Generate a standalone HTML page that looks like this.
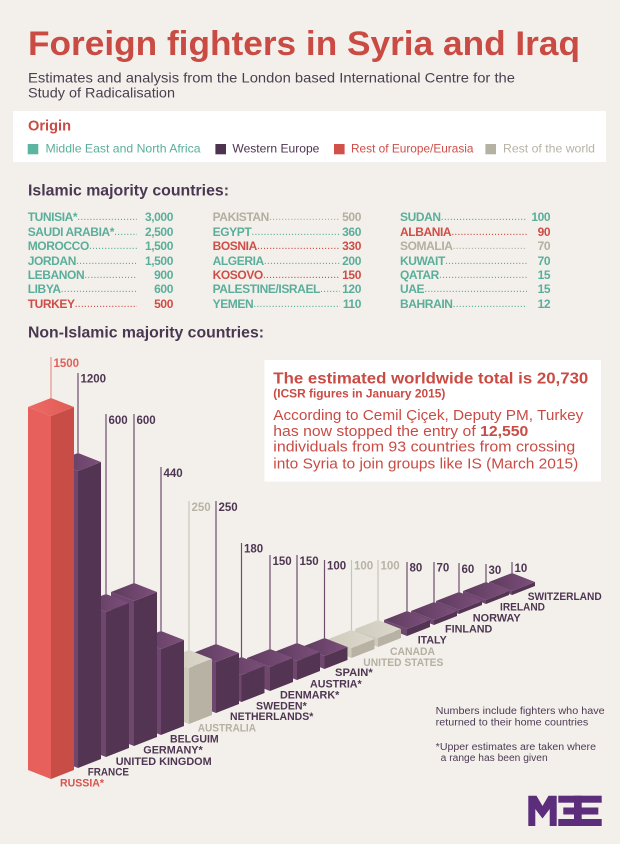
<!DOCTYPE html>
<html>
<head>
<meta charset="utf-8">
<style>
html,body{margin:0;padding:0;}
body{width:620px;height:844px;background:#f3f0eb;overflow:hidden;position:relative;font-family:"Liberation Sans",sans-serif;}
svg{position:absolute;left:0;top:0;}
.col{position:absolute;font-size:12px;font-weight:bold;line-height:14.43px;letter-spacing:-0.4px;}
.row{display:flex;white-space:nowrap;height:14.43px;}
.row span{flex:none;}
.row .d{flex:1 1 0;min-width:0;overflow:hidden;letter-spacing:0px;font-weight:normal;font-size:11px;}
.row .v{text-align:right;}
.t{color:#5aae9b;}
.r{color:#cf4d47;}
.gr{color:#b3ae9f;}
</style>
</head>
<body>
<svg width="620" height="844" viewBox="0 0 620 844" xmlns="http://www.w3.org/2000/svg" font-family="Liberation Sans, sans-serif">
<defs>
<linearGradient id="pt" x1="0" y1="0" x2="1" y2="0"><stop offset="0" stop-color="#5e3b5e"/><stop offset="1" stop-color="#7c4f7b"/></linearGradient>
<linearGradient id="rt" x1="0" y1="0" x2="1" y2="0"><stop offset="0" stop-color="#ee6a65"/><stop offset="1" stop-color="#df5c57"/></linearGradient>
<linearGradient id="gt" x1="0" y1="0" x2="1" y2="0"><stop offset="0" stop-color="#cfcbbd"/><stop offset="1" stop-color="#dcd8cb"/></linearGradient>
</defs>

<rect x="13" y="111" width="593" height="51" fill="#ffffff"/>
<rect x="264.5" y="360" width="336.5" height="121.5" fill="#ffffff"/>

<text x="28" y="55" font-size="34" font-weight="bold" fill="#c94b44" textLength="552" lengthAdjust="spacingAndGlyphs">Foreign fighters in Syria and Iraq</text>
<text x="28" y="82.7" font-size="14" fill="#4b3f50" textLength="487" lengthAdjust="spacingAndGlyphs">Estimates and analysis from the London based International Centre for the</text>
<text x="28" y="97.3" font-size="14" fill="#4b3f50" textLength="147" lengthAdjust="spacingAndGlyphs">Study of Radicalisation</text>

<text x="28" y="130.7" font-size="15" font-weight="bold" fill="#c94b44" textLength="43" lengthAdjust="spacingAndGlyphs">Origin</text>
<rect x="27.7" y="144" width="10.6" height="10.3" fill="#5cb5a1"/>
<text x="45.5" y="152.7" font-size="12" fill="#5aae9b" textLength="155" lengthAdjust="spacingAndGlyphs">Middle East and North Africa</text>
<rect x="215.4" y="144" width="10.6" height="10.3" fill="#4d3350"/>
<text x="232.4" y="152.7" font-size="12" fill="#4d3350" textLength="87" lengthAdjust="spacingAndGlyphs">Western Europe</text>
<rect x="334" y="144" width="10.6" height="10.3" fill="#d2504a"/>
<text x="351" y="152.7" font-size="12" fill="#cf4d47" textLength="122.5" lengthAdjust="spacingAndGlyphs">Rest of Europe/Eurasia</text>
<rect x="485.4" y="144" width="10.6" height="10.3" fill="#b6b2a3"/>
<text x="503" y="152.7" font-size="12" fill="#b7b3a5" textLength="92" lengthAdjust="spacingAndGlyphs">Rest of the world</text>

<text x="28" y="195.7" font-size="16" font-weight="bold" fill="#4a3852" textLength="201" lengthAdjust="spacingAndGlyphs">Islamic majority countries:</text>
<text x="28" y="337.7" font-size="16" font-weight="bold" fill="#4a3852" textLength="236" lengthAdjust="spacingAndGlyphs">Non-Islamic majority countries:</text>

<text x="273.3" y="383.3" font-size="16" font-weight="bold" fill="#c94b44" textLength="315" lengthAdjust="spacingAndGlyphs">The estimated worldwide total is 20,730</text>
<text x="273.3" y="397.7" font-size="12" font-weight="bold" fill="#c94b44" textLength="172" lengthAdjust="spacingAndGlyphs">(ICSR figures in January 2015)</text>
<g font-size="15" fill="#c94b44">
<text x="273.3" y="420" textLength="310" lengthAdjust="spacingAndGlyphs">According to Cemil Çiçek, Deputy PM, Turkey</text>
<text x="273.3" y="436" textLength="255" lengthAdjust="spacingAndGlyphs">has now stopped the entry of <tspan font-weight="bold">12,550</tspan></text>
<text x="273.3" y="451.7" textLength="302" lengthAdjust="spacingAndGlyphs">individuals from 93 countries from crossing</text>
<text x="273.3" y="468.3" textLength="305" lengthAdjust="spacingAndGlyphs">into Syria to join groups like IS (March 2015)</text>
</g>

<g stroke-width="1.2">
<line x1="51" y1="357" x2="51" y2="398" stroke="#e6928c"/>
<line x1="78" y1="373" x2="78" y2="453" stroke="#6d4d6b"/>
<line x1="106" y1="414" x2="106" y2="594" stroke="#6d4d6b"/>
<line x1="134" y1="414" x2="134" y2="583" stroke="#6d4d6b"/>
<line x1="161" y1="467" x2="161" y2="631" stroke="#6d4d6b"/>
<line x1="189" y1="501" x2="189" y2="650" stroke="#c8c4b6"/>
<line x1="216" y1="501" x2="216" y2="644" stroke="#6d4d6b"/>
<line x1="241.5" y1="543" x2="241.5" y2="657" stroke="#6d4d6b"/>
<line x1="270" y1="555" x2="270" y2="649" stroke="#6d4d6b"/>
<line x1="297" y1="555" x2="297" y2="643" stroke="#6d4d6b"/>
<line x1="324.5" y1="560" x2="324.5" y2="638" stroke="#6d4d6b"/>
<line x1="351.5" y1="560" x2="351.5" y2="630" stroke="#c8c4b6"/>
<line x1="378" y1="560" x2="378" y2="620" stroke="#c8c4b6"/>
<line x1="407" y1="562" x2="407" y2="611" stroke="#6d4d6b"/>
<line x1="434" y1="562" x2="434" y2="602" stroke="#6d4d6b"/>
<line x1="459" y1="563" x2="459" y2="592" stroke="#6d4d6b"/>
<line x1="486" y1="564" x2="486" y2="582" stroke="#6d4d6b"/>
<line x1="512" y1="562" x2="512" y2="573" stroke="#6d4d6b"/>
</g>
<g font-size="11.5" font-weight="bold" fill="#4e3652">
<text x="53.5" y="367" fill="#e0605a">1500</text>
<text x="80.5" y="382.5">1200</text>
<text x="108.5" y="424">600</text>
<text x="136.5" y="424">600</text>
<text x="163.5" y="477">440</text>
<text x="191.5" y="511" fill="#b8b3a5">250</text>
<text x="218.5" y="511">250</text>
<text x="244" y="552.5">180</text>
<text x="272.5" y="565">150</text>
<text x="299.5" y="565">150</text>
<text x="327" y="569.5">100</text>
<text x="354" y="569.5" fill="#b8b3a5">100</text>
<text x="380.5" y="569.5" fill="#b8b3a5">100</text>
<text x="409.5" y="571.5">80</text>
<text x="436.5" y="571.5">70</text>
<text x="461.5" y="573">60</text>
<text x="488.5" y="574">30</text>
<text x="514.5" y="572">10</text>
</g>

<polygon points="489,582 512,591 512,595 489,586" fill="#6e466e"/>
<polygon points="512,591 535,582 535,586 512,595" fill="#533553"/>
<polygon points="512,573 535,582 512,591 489,582" fill="url(#pt)"/>
<polygon points="463,591 486,600 486,604 463,595" fill="#6e466e"/>
<polygon points="486,600 509,591 509,595 486,604" fill="#533553"/>
<polygon points="486,582 509,591 486,600 463,591" fill="url(#pt)"/>
<polygon points="436,601 459,610 459,614 436,605" fill="#6e466e"/>
<polygon points="459,610 482,601 482,605 459,614" fill="#533553"/>
<polygon points="459,592 482,601 459,610 436,601" fill="url(#pt)"/>
<polygon points="411,611 434,620 434,625 411,616" fill="#6e466e"/>
<polygon points="434,620 457,611 457,616 434,625" fill="#533553"/>
<polygon points="434,602 457,611 434,620 411,611" fill="url(#pt)"/>
<polygon points="384,620 407,629 407,636 384,627" fill="#6e466e"/>
<polygon points="407,629 430,620 430,627 407,636" fill="#533553"/>
<polygon points="407,611 430,620 407,629 384,620" fill="url(#pt)"/>
<polygon points="355,629 378,638 378,647 355,638" fill="#cfcbbc"/>
<polygon points="378,638 401,629 401,638 378,647" fill="#b7b2a3"/>
<polygon points="378,620 401,629 378,638 355,629" fill="url(#gt)"/>
<polygon points="328.5,639 351.5,648 351.5,658 328.5,649" fill="#cfcbbc"/>
<polygon points="351.5,648 374.5,639 374.5,649 351.5,658" fill="#b7b2a3"/>
<polygon points="351.5,630 374.5,639 351.5,648 328.5,639" fill="url(#gt)"/>
<polygon points="301.5,647 324.5,656 324.5,669 301.5,660" fill="#6e466e"/>
<polygon points="324.5,656 347.5,647 347.5,660 324.5,669" fill="#533553"/>
<polygon points="324.5,638 347.5,647 324.5,656 301.5,647" fill="url(#pt)"/>
<polygon points="274,652 297,661 297,680 274,671" fill="#6e466e"/>
<polygon points="297,661 320,652 320,671 297,680" fill="#533553"/>
<polygon points="297,643 320,652 297,661 274,652" fill="url(#pt)"/>
<polygon points="247,658 270,667 270,691 247,682" fill="#6e466e"/>
<polygon points="270,667 293,658 293,682 270,691" fill="#533553"/>
<polygon points="270,649 293,658 270,667 247,658" fill="url(#pt)"/>
<polygon points="218.5,666 241.5,675 241.5,702 218.5,693" fill="#6e466e"/>
<polygon points="241.5,675 264.5,666 264.5,693 241.5,702" fill="#533553"/>
<polygon points="241.5,657 264.5,666 241.5,675 218.5,666" fill="url(#pt)"/>
<polygon points="193,653 216,662 216,713 193,704" fill="#6e466e"/>
<polygon points="216,662 239,653 239,704 216,713" fill="#533553"/>
<polygon points="216,644 239,653 216,662 193,653" fill="url(#pt)"/>
<polygon points="166,659 189,668 189,724 166,715" fill="#cfcbbc"/>
<polygon points="189,668 212,659 212,715 189,724" fill="#b7b2a3"/>
<polygon points="189,650 212,659 189,668 166,659" fill="url(#gt)"/>
<polygon points="138,640 161,649 161,735 138,726" fill="#6e466e"/>
<polygon points="161,649 184,640 184,726 161,735" fill="#533553"/>
<polygon points="161,631 184,640 161,649 138,640" fill="url(#pt)"/>
<polygon points="111,592 134,601 134,746 111,737" fill="#6e466e"/>
<polygon points="134,601 157,592 157,737 134,746" fill="#533553"/>
<polygon points="134,583 157,592 134,601 111,592" fill="url(#pt)"/>
<polygon points="83,603 106,612 106,757 83,748" fill="#6e466e"/>
<polygon points="106,612 129,603 129,748 106,757" fill="#533553"/>
<polygon points="106,594 129,603 106,612 83,603" fill="url(#pt)"/>
<polygon points="55,462 78,471 78,768 55,759" fill="#6e466e"/>
<polygon points="78,471 101,462 101,759 78,768" fill="#533553"/>
<polygon points="78,453 101,462 78,471 55,462" fill="url(#pt)"/>
<polygon points="28,407 51,416 51,779 28,770" fill="#e8605c"/>
<polygon points="51,416 74,407 74,770 51,779" fill="#c94d47"/>
<polygon points="51,398 74,407 51,416 28,407" fill="url(#rt)"/>

<g font-size="11" font-weight="bold" fill="#4e3652">
<text x="60" y="786.7" fill="#d9534f" textLength="44" lengthAdjust="spacingAndGlyphs">RUSSIA*</text>
<text x="87.7" y="775.7" textLength="41.3" lengthAdjust="spacingAndGlyphs">FRANCE</text>
<text x="115.7" y="765" textLength="96" lengthAdjust="spacingAndGlyphs">UNITED KINGDOM</text>
<text x="143.3" y="753.3" textLength="59.4" lengthAdjust="spacingAndGlyphs">GERMANY*</text>
<text x="170" y="742.3" textLength="48.7" lengthAdjust="spacingAndGlyphs">BELGUIM</text>
<text x="197.7" y="731.7" fill="#b5b0a2" textLength="58.3" lengthAdjust="spacingAndGlyphs">AUSTRALIA</text>
<text x="230" y="720" textLength="83.3" lengthAdjust="spacingAndGlyphs">NETHERLANDS*</text>
<text x="256" y="709.3" textLength="50.7" lengthAdjust="spacingAndGlyphs">SWEDEN*</text>
<text x="280" y="698.3" textLength="59.3" lengthAdjust="spacingAndGlyphs">DENMARK*</text>
<text x="310" y="687.3" textLength="51.7" lengthAdjust="spacingAndGlyphs">AUSTRIA*</text>
<text x="335" y="676" textLength="37.7" lengthAdjust="spacingAndGlyphs">SPAIN*</text>
<text x="363.3" y="666" fill="#b5b0a2" textLength="80" lengthAdjust="spacingAndGlyphs">UNITED STATES</text>
<text x="390" y="655" fill="#b5b0a2" textLength="45" lengthAdjust="spacingAndGlyphs">CANADA</text>
<text x="417.7" y="643.3" textLength="29" lengthAdjust="spacingAndGlyphs">ITALY</text>
<text x="445" y="632.7" textLength="47.3" lengthAdjust="spacingAndGlyphs">FINLAND</text>
<text x="472.7" y="621.7" textLength="48" lengthAdjust="spacingAndGlyphs">NORWAY</text>
<text x="500" y="610.7" textLength="45" lengthAdjust="spacingAndGlyphs">IRELAND</text>
<text x="527.7" y="600" textLength="74" lengthAdjust="spacingAndGlyphs">SWITZERLAND</text>
</g>

<g font-size="10" fill="#4d3a55">
<text x="435.7" y="714" textLength="169" lengthAdjust="spacingAndGlyphs">Numbers include fighters who have</text>
<text x="435.7" y="725.7" textLength="152.6" lengthAdjust="spacingAndGlyphs">returned to their home countries</text>
<text x="435.7" y="750" textLength="160.3" lengthAdjust="spacingAndGlyphs">*Upper estimates are taken where</text>
<text x="440.7" y="761" textLength="107" lengthAdjust="spacingAndGlyphs">a range has been given</text>
</g>

<g fill="#5b2d7a">
<polygon points="528.3,795.7 536.5,795.7 542.5,806 548.5,795.7 556.7,795.7 556.7,826 549.7,826 549.7,809 542.5,818.5 535.3,809 535.3,826 528.3,826"/>
<rect x="558.3" y="795.7" width="43.4" height="7"/>
<rect x="558.3" y="819" width="43.4" height="7"/>
<rect x="563.3" y="807.5" width="11" height="7"/>
<rect x="574" y="795.7" width="7.7" height="30.3"/>
<rect x="581" y="807.5" width="17.3" height="7"/>
</g>
</svg>

<div class="col" style="left:27.7px;top:210.3px;width:145.3px;">
<div class="row t"><span>TUNISIA*</span><span class="d">..................................................</span><span class="v" style="width:36px">3,000</span></div>
<div class="row t"><span>SAUDI ARABIA*</span><span class="d">..................................................</span><span class="v" style="width:36px">2,500</span></div>
<div class="row t"><span>MOROCCO</span><span class="d">..................................................</span><span class="v" style="width:36px">1,500</span></div>
<div class="row t"><span>JORDAN</span><span class="d">..................................................</span><span class="v" style="width:36px">1,500</span></div>
<div class="row t"><span>LEBANON</span><span class="d">..................................................</span><span class="v" style="width:36px">900</span></div>
<div class="row t"><span>LIBYA</span><span class="d">..................................................</span><span class="v" style="width:36px">600</span></div>
<div class="row r"><span>TURKEY</span><span class="d">..................................................</span><span class="v" style="width:36px">500</span></div>
</div>

<div class="col" style="left:212.6px;top:210.3px;width:148.4px;">
<div class="row gr"><span>PAKISTAN</span><span class="d">..................................................</span><span class="v" style="width:21px">500</span></div>
<div class="row t"><span>EGYPT</span><span class="d">..................................................</span><span class="v" style="width:21px">360</span></div>
<div class="row r"><span>BOSNIA</span><span class="d">..................................................</span><span class="v" style="width:21px">330</span></div>
<div class="row t"><span>ALGERIA</span><span class="d">..................................................</span><span class="v" style="width:21px">200</span></div>
<div class="row r"><span>KOSOVO</span><span class="d">..................................................</span><span class="v" style="width:21px">150</span></div>
<div class="row t"><span>PALESTINE/ISRAEL</span><span class="d">..................................................</span><span class="v" style="width:21px">120</span></div>
<div class="row t"><span>YEMEN</span><span class="d">..................................................</span><span class="v" style="width:21px">110</span></div>
</div>

<div class="col" style="left:400px;top:210.3px;width:150.2px;">
<div class="row t"><span>SUDAN</span><span class="d">..................................................</span><span class="v" style="width:23px">100</span></div>
<div class="row r"><span>ALBANIA</span><span class="d">..................................................</span><span class="v" style="width:23px">90</span></div>
<div class="row gr"><span>SOMALIA</span><span class="d">..................................................</span><span class="v" style="width:23px">70</span></div>
<div class="row t"><span>KUWAIT</span><span class="d">..................................................</span><span class="v" style="width:23px">70</span></div>
<div class="row t"><span>QATAR</span><span class="d">..................................................</span><span class="v" style="width:23px">15</span></div>
<div class="row t"><span>UAE</span><span class="d">..................................................</span><span class="v" style="width:23px">15</span></div>
<div class="row t"><span>BAHRAIN</span><span class="d">..................................................</span><span class="v" style="width:23px">12</span></div>
</div>
</body>
</html>
